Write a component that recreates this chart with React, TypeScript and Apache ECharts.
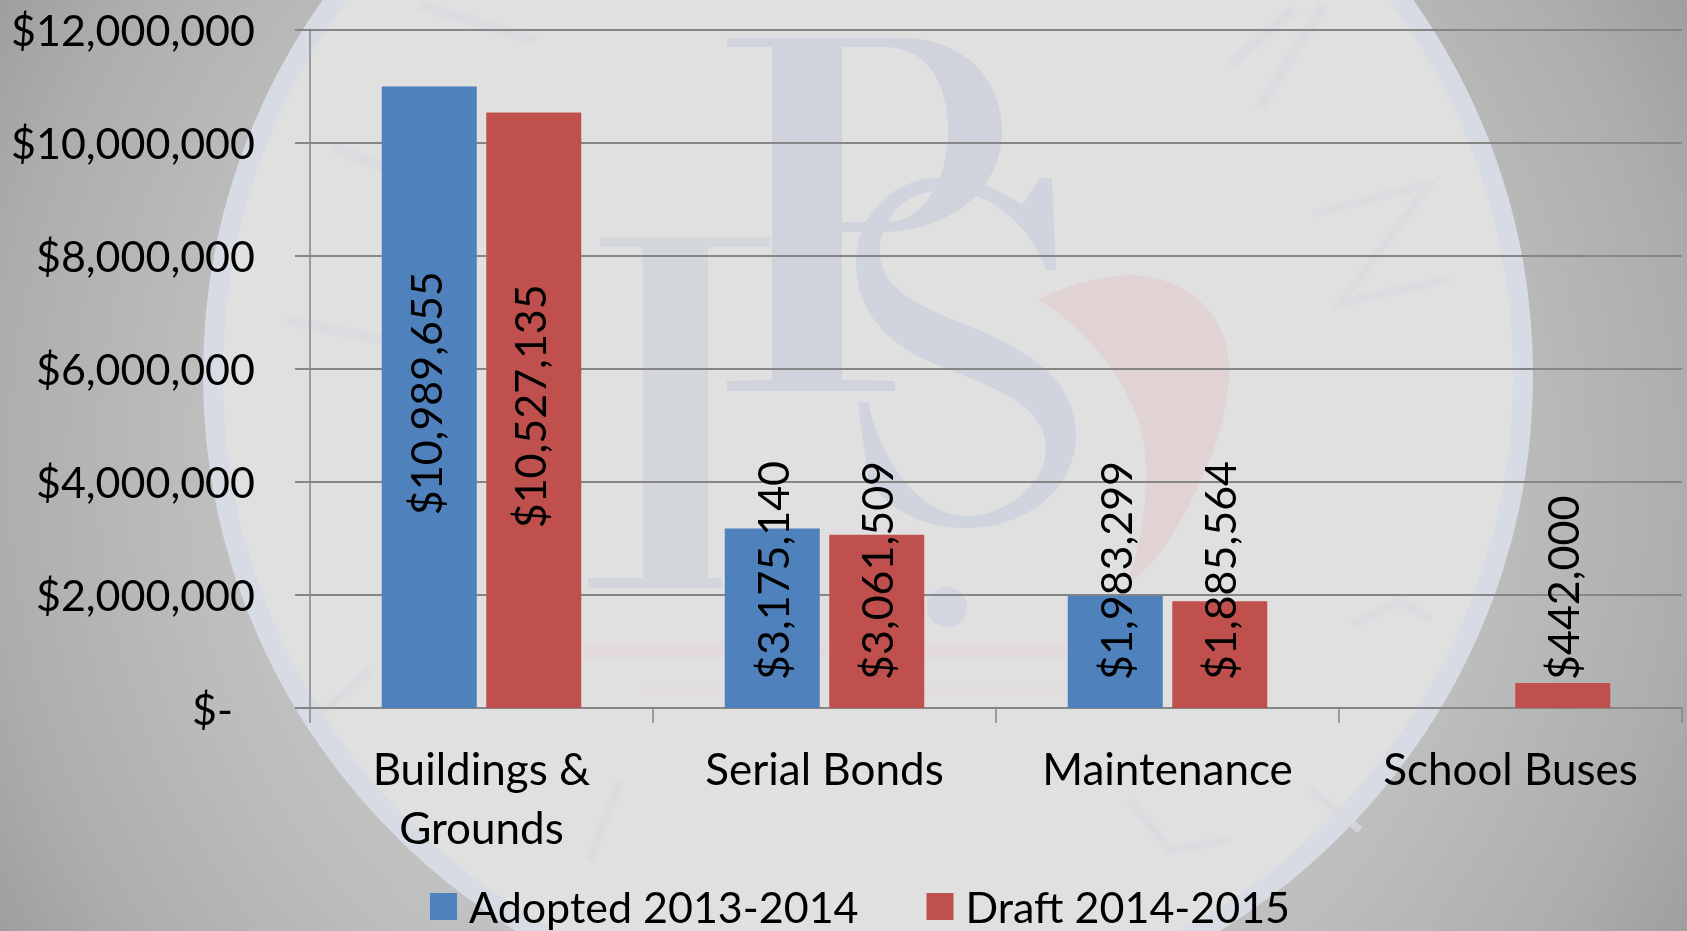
import React, { useEffect, useRef } from "react";
import * as echarts from "echarts";

const categories = ["Buildings &\nGrounds", "Serial Bonds", "Maintenance", "School Buses"];
const adopted = [10989655, 3175140, 1983299, null];
const draft = [10527135, 3061509, 1885564, 442000];
const seriesNames = ["Adopted 2013-2014", "Draft 2014-2015"];
const FONT = "Lato";
const SIZE = 43;

const wmP = "M727 38 L905 38 C965 40 1002 80 1002 130 C1002 190 950 232 880 232 L842 232 L842 380 L895 381 L895 391 L727 391 L727 381 L772 380 L772 47 L727 47 Z M842 47 L842 222 L885 222 C925 222 948 180 948 130 C948 80 925 47 885 47 Z";
const wmI = "M600 237 L770 237 L770 247 L708 247 L708 578 L722 578 L722 588 L588 588 L588 578 L643 578 L643 247 L600 247 Z";
const wmS = "M1052 178 L1056 270 L1046 270 C1030 225 990 190 945 190 C900 190 878 225 880 255 C884 300 940 312 990 335 C1050 362 1078 395 1076 440 C1072 495 1020 530 960 528 C915 526 885 505 868 480 L858 402 L868 402 C880 460 920 515 965 516 C1010 516 1048 480 1046 445 C1042 400 985 385 930 362 C885 342 856 310 856 262 C856 215 895 175 945 178 C975 178 1000 190 1022 205 L1040 178 Z";
const wmFlame = "M1038 299 C1070 285 1110 270 1150 277 C1195 285 1228 320 1229 365 C1230 420 1205 480 1175 530 C1160 555 1145 572 1128 582 C1145 530 1150 480 1143 440 C1135 390 1090 330 1038 299 Z";
echarts.graphic.registerShape("wmP", echarts.graphic.extendPath(wmP, {}));
echarts.graphic.registerShape("wmI", echarts.graphic.extendPath(wmI, {}));
echarts.graphic.registerShape("wmS", echarts.graphic.extendPath(wmS, {}));
echarts.graphic.registerShape("wmFlame", echarts.graphic.extendPath(wmFlame, {}));

const money = (v: number) => "$" + Math.round(v).toLocaleString("en-US");

const faint = (points: number[][], width = 10, stroke = "#d9dbe0") => ({
  type: "polyline",
  z: -10,
  silent: true,
  shape: { points },
  style: { stroke, lineWidth: width, fill: "none", opacity: 0.8 },
});

const wm = (type: string, fill: string) => ({ type, x: 0, y: 0, z: -10, silent: true, style: { fill } });

const baseLabel = {
  show: true,
  rotate: 90,
  position: "insideBottom",
  align: "left",
  verticalAlign: "middle",
  distance: 24,
  offset: [4, 0],
  color: "#000",
  fontFamily: FONT,
  fontSize: SIZE,
  formatter: (p: any) => money(p.value),
};

const tallLabel = { position: "inside", align: "center", verticalAlign: "middle", offset: [4, -4] };

const points = (vals: (number | null)[]) =>
  vals.map((v) => (v !== null && v > 6000000 ? { value: v, label: tallLabel } : v));

export default function App() {
  const ref = useRef<HTMLDivElement>(null);
  useEffect(() => {
    const chart = echarts.init(ref.current!, undefined, { renderer: "svg" });
    chart.setOption({
      animation: false,
      graphic: {
        elements: [
          {
            type: "rect",
            z: -20,
            silent: true,
            shape: { x: 0, y: 0, width: 1687, height: 931 },
            style: {
              fill: {
                type: "radial",
                x: 843,
                y: 465,
                r: 1000,
                global: true,
                colorStops: [
                  { offset: 0, color: "#e2e2e2" },
                  { offset: 0.65, color: "#bdbdbd" },
                  { offset: 0.85, color: "#adadad" },
                  { offset: 1, color: "#9a9a9a" },
                ],
              },
            },
          },
          {
            type: "ellipse",
            z: -15,
            silent: true,
            shape: { cx: 868, cy: 375, rx: 655, ry: 645 },
            style: { fill: "#e0e0e0", stroke: "#d7dbe3", lineWidth: 20 },
          },
          wm("wmI", "#d3d6db"),
          wm("wmP", "#d0d2dc"),
          wm("wmS", "#d0d4de"),
          wm("wmFlame", "#e1d2d3"),
          { type: "circle", z: -10, silent: true, shape: { cx: 947, cy: 607, r: 20 }, style: { fill: "#d3d6e0" } },
          faint([[583, 650], [1067, 650]], 16, "#e4d9da"),
          faint([[640, 690], [1060, 690]], 10, "#e2dddd"),
          faint([[1230, 65], [1293, 10]]),
          faint([[1260, 107], [1323, 6]]),
          faint([[1313, 214], [1430, 184], [1340, 303], [1450, 279]], 8),
          faint([[333, 147], [383, 167]]),
          faint([[287, 320], [383, 340]]),
          faint([[420, 5], [535, 40]]),
          faint([[1353, 625], [1400, 600], [1430, 620]], 8),
          faint([[320, 715], [370, 670]], 8),
          faint([[1310, 790], [1360, 830]], 8),
          faint([[1130, 800], [1170, 850], [1230, 840]], 8),
          faint([[590, 860], [620, 780]], 8),
        ],
      },
      grid: { left: 310, right: 5, top: 29.3, bottom: 223, containLabel: false },
      legend: {
        left: 430,
        top: 885,
        padding: 0,
        itemWidth: 27,
        itemHeight: 27,
        itemGap: 68,
        icon: "rect",
        data: seriesNames,
        textStyle: { fontFamily: FONT, fontSize: SIZE, lineHeight: 27, color: "#000", padding: [0, 0, 0, 7] },
      },
      xAxis: {
        type: "category",
        data: categories,
        axisLine: { lineStyle: { color: "#868686", width: 2 } },
        axisTick: { show: true, length: 15, lineStyle: { color: "#868686", width: 1.5 } },
        axisLabel: { color: "#000", fontFamily: FONT, fontSize: 44, lineHeight: 59, margin: 30, interval: 0 },
      },
      yAxis: {
        type: "value",
        min: 0,
        max: 12000000,
        interval: 2000000,
        axisLine: { show: true, lineStyle: { color: "#868686", width: 1.5 } },
        axisTick: { show: true, length: 15, lineStyle: { color: "#868686", width: 2 } },
        splitLine: { show: true, lineStyle: { color: "#868686", width: 2 } },
        axisLabel: {
          color: "#000",
          fontFamily: FONT,
          fontSize: SIZE,
          margin: 55,
          formatter: (v: number) => (v === 0 ? "$-\u00a0\u00a0" : money(v)),
        },
      },
      series: [
        {
          type: "bar",
          name: seriesNames[0],
          data: points(adopted),
          barWidth: 95,
          barGap: "10%",
          itemStyle: { color: "#4f81bd" },
          label: baseLabel,
        },
        {
          type: "bar",
          name: seriesNames[1],
          data: points(draft),
          barWidth: 95,
          barGap: "10%",
          itemStyle: { color: "#c0504d" },
          label: baseLabel,
        },
      ],
    });
    return () => chart.dispose();
  }, []);
  return <div ref={ref} style={{ position: "fixed", left: 0, top: 0, width: 1687, height: 931 }} />;
}
